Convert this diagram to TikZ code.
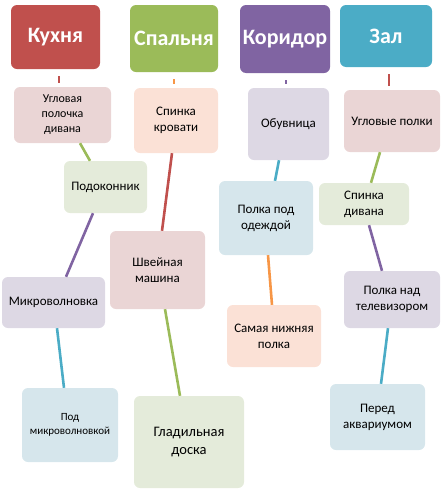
\documentclass[tikz,border=0pt]{standalone}
\usepackage{fontspec}
\setmainfont{Carlito}
\definecolor{cred}{HTML}{C0504D}
\definecolor{cgreen}{HTML}{9BBB59}
\definecolor{cpurple}{HTML}{8064A2}
\definecolor{cteal}{HTML}{4BACC6}
\definecolor{corange}{HTML}{F79646}
\definecolor{lred}{HTML}{EAD5D5}
\definecolor{lgreen}{HTML}{E4EBDA}
\definecolor{lpurple}{HTML}{DDD8E4}
\definecolor{lteal}{HTML}{D6E6EC}
\definecolor{lorange}{HTML}{FBE1D6}

\begin{document}
\begin{tikzpicture}[x=1pt, y=-1pt,
	room/.style={rounded corners=6pt, text=white, font=\bfseries\fontsize{22}{24}\selectfont, inner sep=0pt},
	spot/.style={rounded corners=6pt, align=center, font=\fontsize{13}{16}\selectfont, inner sep=2pt},
	link/.style={line width=2.6pt}]
	 \useasboundingbox (0,0) rectangle (444,493);
	 \node[room, fill=cred, minimum width=89pt, minimum height=64pt] (kukhnya) at (55.5,37) {Кухня};
	 \node[room, fill=cgreen, minimum width=88pt, minimum height=67pt] (spalnya) at (174,38.5) {Спальня};
	 \node[room, fill=cpurple, minimum width=90pt, minimum height=68pt] (koridor) at (285,39) {Коридор};
	 \node[room, fill=cteal, minimum width=92pt, minimum height=62pt] (zal) at (386,36) {Зал};
	 
	 \node[spot, fill=lred, minimum width=97pt, minimum height=56pt, font=\fontsize{12}{15}\selectfont] (uglpol) at (62.5,115) {Угловая\\полочка\\дивана};
	 \node[spot, fill=lgreen, minimum width=83pt, minimum height=52pt] (podok) at (105.5,187) {Подоконник};
	 \node[spot, fill=lpurple, minimum width=103pt, minimum height=51pt] (mikro) at (53.5,302.5) {Микроволновка};
	 \node[spot, fill=lteal, minimum width=96pt, minimum height=74pt, font=\fontsize{11}{14}\selectfont] (podmikro) at (70,425) {Под\\микроволновкой};
	 
	 \node[spot, fill=lorange, minimum width=84pt, minimum height=65pt] (spinkakr) at (176,120.5) {Спинка\\кровати};
	 \node[spot, fill=lred, minimum width=95pt, minimum height=78pt] (shveyn) at (157.5,270) {Швейная\\машина};
	 \node[spot, fill=lgreen, minimum width=110pt, minimum height=92pt, font=\fontsize{14.5}{18}\selectfont] (gladil) at (189,442) {Гладильная\\доска};
	 
	 \node[spot, fill=lpurple, minimum width=81pt, minimum height=72pt] (obuv) at (288.5,124) {Обувница};
	 \node[spot, fill=lteal, minimum width=94pt, minimum height=74pt] (polkapod) at (266,218) {Полка под\\одеждой};
	 \node[spot, fill=lorange, minimum width=94pt, minimum height=62pt] (samaya) at (274,336) {Самая нижняя\\полка};
	 
	 \node[spot, fill=lred, minimum width=96pt, minimum height=62pt] (uglovye) at (392,121) {Угловые полки};
	 \node[spot, fill=lgreen, minimum width=90pt, minimum height=42pt] (spinkadiv) at (364,204) {Спинка\\дивана};
	 \node[spot, fill=lpurple, minimum width=96pt, minimum height=57pt] (polkanad) at (392,299.5) {Полка над\\телевизором};
	 \node[spot, fill=lteal, minimum width=95pt, minimum height=66pt] (pered) at (377.5,417) {Перед\\аквариумом};
	 
	 \foreach \a/\ax/\b/\bx/\c in {kukhnya/3.5/uglpol/-3.5/cred, spalnya/0/spinkakr/-2/corange, koridor/1/obuv/-2.5/cpurple, zal/3/uglovye/-3/cred}
	 \draw[link, \c, shorten <=7pt, shorten >=4pt] ([xshift=\ax pt]\a.south) -- ([xshift=\bx pt]\b.north);
	 
	 \foreach \a/\ax/\b/\bx/\c in {uglpol/17.5/podok/-15.5/cgreen, podok/-12.5/mikro/12.5/cpurple, mikro/3.5/podmikro/-6/cteal,
	 spinkakr/-4/shveyn/4.5/cred, shveyn/7.5/gladil/-9/cgreen,
	 obuv/-9.5/polkapod/9/cteal, polkapod/2/samaya/-2/corange,
	 uglovye/-12/spinkadiv/7/cgreen, spinkadiv/5/polkanad/-10/cpurple, polkanad/-4/pered/3.5/cteal}
	 \draw[link, \c] ([xshift=\ax pt]\a.south) -- ([xshift=\bx pt]\b.north);
\end{tikzpicture}
\end{document}
